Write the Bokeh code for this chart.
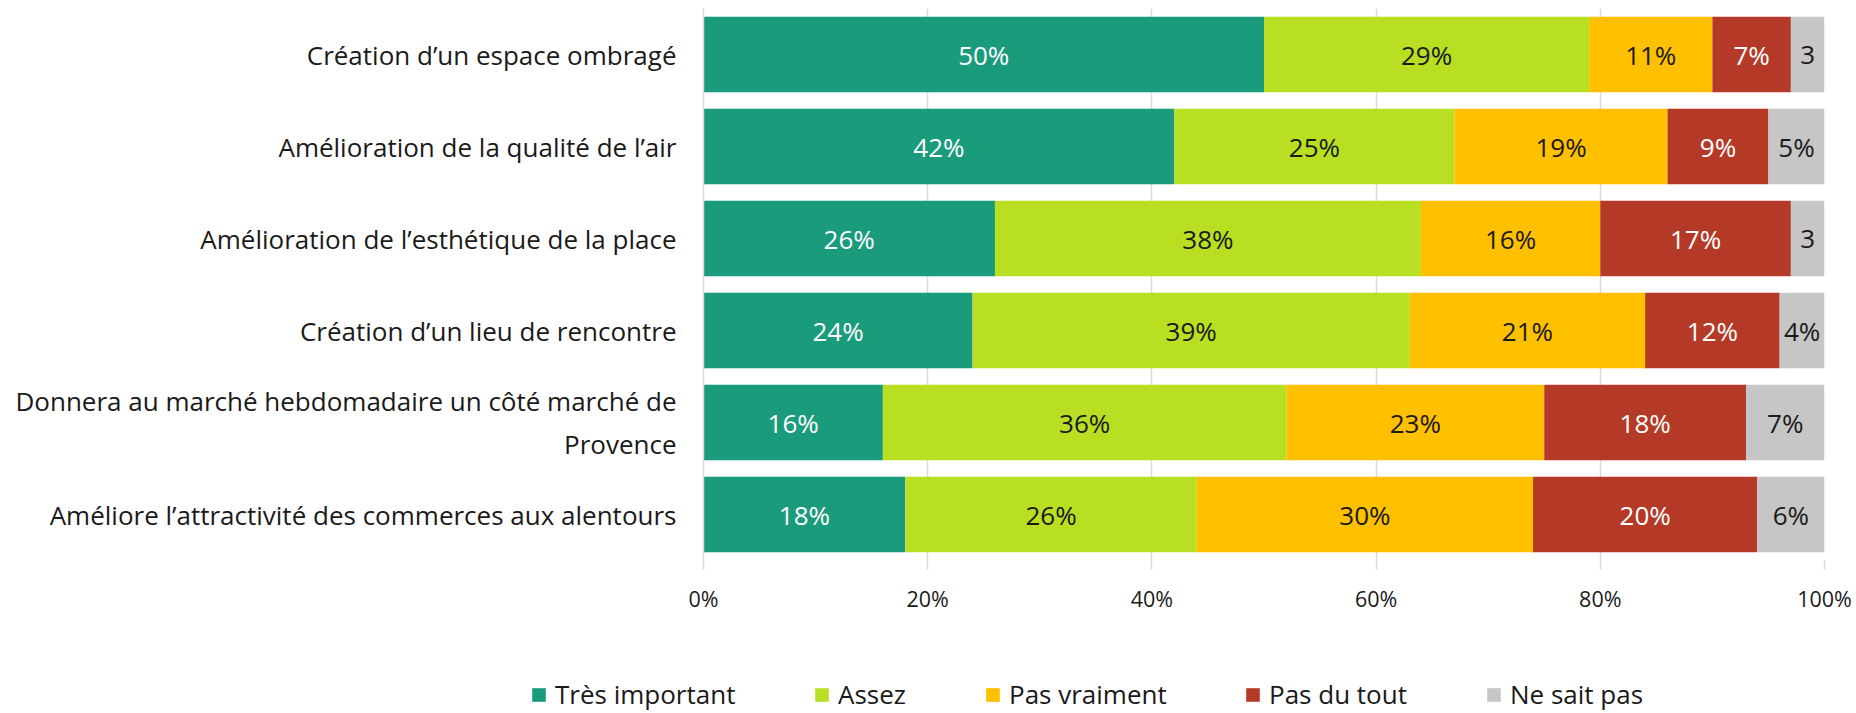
from bokeh.plotting import figure
from bokeh.layouts import column
from bokeh.models import ColumnDataSource, FactorRange, Range1d, Legend, LegendItem, FixedTicker
from bokeh.core.properties import value
from bokeh.embed import file_html
from bokeh.resources import INLINE

categories = [
    "Création d’un espace ombragé",
    "Amélioration de la qualité de l’air",
    "Amélioration de l’esthétique de la place",
    "Création d’un lieu de rencontre",
    "Donnera au marché hebdomadaire un côté marché de\nProvence",
    "Améliore l’attractivité des commerces aux alentours",
]
series = ["Très important", "Assez", "Pas vraiment", "Pas du tout", "Ne sait pas"]
tres_important = [50, 42, 26, 24, 16, 18]
assez = [29, 25, 38, 39, 36, 26]
pas_vraiment = [11, 19, 16, 21, 23, 30]
pas_du_tout = [7, 9, 17, 12, 18, 20]
ne_sait_pas = [3, 5, 3, 4, 7, 6]
x_ticks = [0, 20, 40, 60, 80, 100]
tick_labels = ["0%", "20%", "40%", "60%", "80%", "100%"]

colors = ["#199B7C", "#B8DF22", "#FFC000", "#B43A27", "#C6C6C6"]
label_colors = ["white", "#1a1a1a", "#1a1a1a", "white", "#1a1a1a"]
keys = ["ti", "as", "pv", "pdt", "nsp"]
values = [tres_important, assez, pas_vraiment, pas_du_tout, ne_sait_pas]

FONT = "Open Sans"
BIG = "26px"

data = {"cat": categories}
for k, v in zip(keys, values):
    data[k] = v
source = ColumnDataSource(data)

p = figure(
    width=1856, height=620,
    y_range=FactorRange(factors=list(reversed(categories)), range_padding=0),
    x_range=Range1d(0, 100),
    output_backend="svg", toolbar_location=None,
    min_border_left=703, min_border_right=32, min_border_top=8, min_border_bottom=60,
)
p.frame_align = False
p.outline_line_color = None

renderers = p.hbar_stack(keys, y="cat", height=0.82, color=colors, line_color=None, source=source)

# data labels
lx, ly, lt, lc = [], [], [], []
for i, cat in enumerate(categories):
    left = 0
    for j, v in enumerate(values):
        val = v[i]
        lx.append(left + val / 2)
        ly.append(cat)
        lt.append(f"{val}%" if val >= 4 else f"{val}")
        lc.append(label_colors[j])
        left += val
lsrc = ColumnDataSource(dict(x=lx, y=ly, t=lt, c=lc))
p.text(x="x", y="y", text="t", text_color="c", source=lsrc,
       text_align="center", text_baseline="middle",
       text_font=value(FONT), text_font_size=BIG)

# axes
p.xaxis.ticker = FixedTicker(ticks=x_ticks)
p.xaxis.major_label_overrides = {t: l for t, l in zip(x_ticks, tick_labels)}
p.xaxis.axis_line_color = None
p.xaxis.major_tick_line_color = "#d9d9d9"
p.xaxis.major_tick_line_width = 1.5
p.xaxis.major_tick_out = 9
p.xaxis.major_tick_in = 0
p.xaxis.minor_tick_line_color = None
p.xaxis.major_label_standoff = 14
p.xaxis.major_label_text_font = FONT
p.xaxis.major_label_text_font_size = "21.5px"
p.xaxis.major_label_text_color = "#1a1a1a"

p.yaxis.axis_line_color = "#d9d9d9"
p.yaxis.axis_line_width = 1.5
p.yaxis.major_tick_line_color = None
p.yaxis.minor_tick_line_color = None
p.yaxis.major_label_standoff = 21
p.yaxis.major_label_text_font = FONT
p.yaxis.major_label_text_font_size = BIG
p.yaxis.major_label_text_color = "#1a1a1a"

p.xgrid.ticker = FixedTicker(ticks=x_ticks)
p.xgrid.grid_line_color = "#d9d9d9"
p.xgrid.grid_line_width = 1.5
p.ygrid.grid_line_color = None

# legend strip below the chart (its own full-width frame)
p2 = figure(width=1856, height=93, x_range=Range1d(0, 1), y_range=Range1d(0, 1),
            output_backend="svg", toolbar_location=None,
            min_border_left=0, min_border_right=0, min_border_top=0, min_border_bottom=0)
p2.frame_align = False
p2.axis.visible = False
p2.grid.grid_line_color = None
p2.outline_line_color = None
legend_x = [530, 813, 984, 1244, 1485]
for name, col, lxpos in zip(series, colors, legend_x):
    r = p2.rect(x=[-10], y=[-10], width=1, height=1, fill_color=col, line_color=None)
    lg = Legend(items=[LegendItem(label=name, renderers=[r])],
                location=(lxpos, 1), orientation="horizontal",
                padding=0, margin=0, border_line_color=None,
                background_fill_alpha=0, glyph_width=17, glyph_height=17,
                label_standoff=8, label_text_font=FONT, label_text_font_size=BIG,
                label_text_color="#1a1a1a")
    p2.add_layout(lg, "center")

layout = column(p, p2, spacing=0)
open("out.html", "w").write(file_html(layout, INLINE))
